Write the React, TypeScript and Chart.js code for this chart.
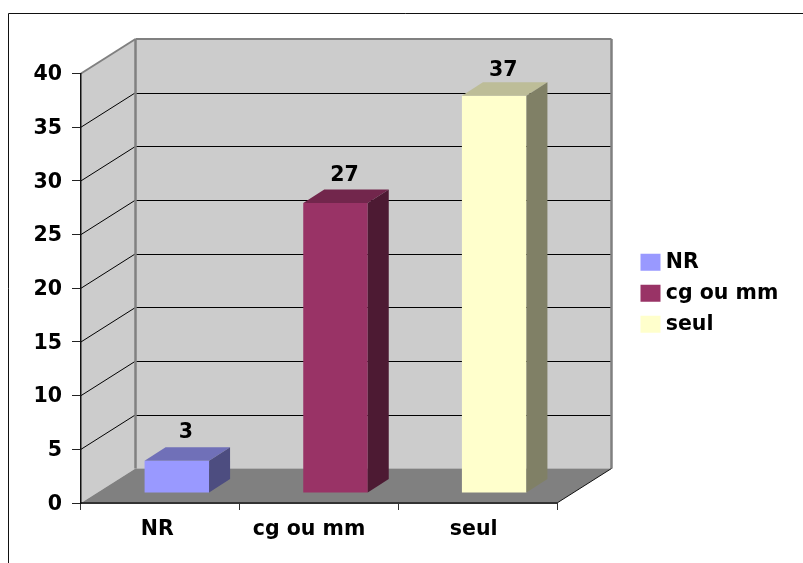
import React, { useEffect, useRef } from "react";
import { Chart, registerables } from "chart.js";

Chart.register(...registerables);

const categories = ["NR", "cg ou mm", "seul"];
const values = [3, 27, 37];
const frontColors = ["#9999FF", "#993366", "#FFFFCC"];
const topColors = ["#7070B8", "#72264C", "#BDBD98"];
const sideColors = ["#4D4D80", "#4D1A33", "#808066"];

const FONT = { family: "'DejaVu Sans', Verdana, sans-serif", size: 20.5, weight: "bold" as const };
const WALL_DX = 54.5;
const WALL_DY = -34.5;
const BAR_SHIFT_X = 16.5;
const BAR_SHIFT_Y = -10;
const BAR_DX = 21;
const BAR_DY = -13.5;
const TICK_LABEL_SHIFT = [-3, -10, -4];
const VALUE_LABEL_SHIFT = [-1, 0, 2.5];

const poly = (ctx: CanvasRenderingContext2D, pts: number[][], fill?: string) => {
  ctx.beginPath();
  pts.forEach(([x, y], i) => (i ? ctx.lineTo(x, y) : ctx.moveTo(x, y)));
  ctx.closePath();
  if (fill) {
    ctx.fillStyle = fill;
    ctx.fill();
  }
};

const line = (ctx: CanvasRenderingContext2D, x1: number, y1: number, x2: number, y2: number, color: string, lw = 1) => {
  ctx.beginPath();
  ctx.moveTo(x1, y1);
  ctx.lineTo(x2, y2);
  ctx.strokeStyle = color;
  ctx.lineWidth = lw;
  ctx.stroke();
};

const snap = (v: number) => Math.round(v) + 0.5;

const scenePlugin = {
  id: "scene3d",
  afterLayout(chart: any) {
    const legend = chart.legend;
    legend.left = 635;
    legend.top = 241.5;
    legend.right = 803;
    legend.bottom = 563;
    legend.width = 168;
    legend.height = 321.5;
  },
  beforeDraw(chart: any) {
    const { ctx, chartArea: a, scales } = chart;
    const y = scales.y;
    scales.x.getLabelItems(a).forEach((item: any, i: number) => {
      if (!item.shifted) {
        item.options.translation[0] += TICK_LABEL_SHIFT[i];
        item.shifted = true;
      }
    });
    ctx.save();
    // frame
    ctx.beginPath();
    ctx.moveTo(8.5, 563);
    ctx.lineTo(8.5, 13.5);
    ctx.lineTo(803, 13.5);
    ctx.strokeStyle = "#111111";
    ctx.lineWidth = 1;
    ctx.stroke();

    const bx = a.left + WALL_DX;
    const brx = a.right + WALL_DX;
    const by = a.bottom + WALL_DY;
    const bty = a.top + WALL_DY;
    // side and back walls
    poly(ctx, [[a.left, a.top], [bx, bty], [bx, by], [a.left, a.bottom]], "#CCCCCC");
    poly(ctx, [[bx, bty], [brx, bty], [brx, by], [bx, by]], "#CCCCCC");
    // grid lines on the walls
    (y.ticks as any[]).forEach((t) => {
      if (t.value === 0 || t.value === 40) return;
      const py = y.getPixelForValue(t.value);
      line(ctx, a.left, py, bx, py + WALL_DY, "#000000");
      line(ctx, bx, snap(py + WALL_DY), brx, snap(py + WALL_DY), "#000000");
    });
    // floor
    poly(ctx, [[a.left, a.bottom], [bx, by], [brx, by], [a.right, a.bottom]], "#808080");
    // wall edges
    line(ctx, a.left, a.top, bx, bty, "#808080", 2);
    line(ctx, bx, bty, brx, bty, "#808080", 2);
    line(ctx, brx, bty, brx, by, "#808080", 2.5);
    line(ctx, bx, bty, bx, by, "#808080", 2.5);
    line(ctx, a.right, a.bottom, brx, by, "#111111", 1);
    ctx.restore();
  },
  beforeDatasetDraw(chart: any) {
    chart.ctx.save();
    chart.ctx.translate(BAR_SHIFT_X, BAR_SHIFT_Y);
  },
  afterDatasetDraw(chart: any) {
    const { ctx } = chart;
    const meta = chart.getDatasetMeta(0);
    meta.data.forEach((bar: any, i: number) => {
      const { x, y, base, width } = bar.getProps(["x", "y", "base", "width"], true);
      const l = x - width / 2;
      const r = x + width / 2;
      poly(ctx, [[l, y], [l + BAR_DX, y + BAR_DY], [r + BAR_DX, y + BAR_DY], [r, y]], topColors[i]);
      poly(ctx, [[r, y], [r + BAR_DX, y + BAR_DY], [r + BAR_DX, base + BAR_DY], [r, base]], sideColors[i]);
      ctx.fillStyle = "#000000";
      ctx.font = `${FONT.weight} ${FONT.size}px ${FONT.family}`;
      ctx.textAlign = "center";
      ctx.textBaseline = "middle";
      ctx.fillText(String(values[i]), x + 9, y + BAR_DY - 14 + VALUE_LABEL_SHIFT[i]);
    });
    ctx.restore();
  },
};

export default function App() {
  const ref = useRef<HTMLCanvasElement>(null);

  useEffect(() => {
    document.body.style.margin = "0";
    const chart = new Chart(ref.current as HTMLCanvasElement, {
      type: "bar",
      data: {
        labels: categories,
        datasets: [
          {
            data: values,
            backgroundColor: frontColors,
            borderWidth: 0,
            barPercentage: 0.4065,
            categoryPercentage: 1,
          },
        ],
      },
      options: {
        animation: false,
        responsive: false,
        devicePixelRatio: 1,
        layout: { padding: { left: 0, top: 73.5, right: 246, bottom: 0 } },
        scales: {
          x: {
            offset: true,
            afterFit: (s: any) => {
              s.height = 60;
            },
            grid: { offset: true, drawOnChartArea: false, tickLength: 7, tickColor: "#333333" },
            border: { color: "#333333", width: 2 },
            ticks: { color: "#000000", font: FONT, padding: 7, maxRotation: 0, autoSkip: false },
          },
          y: {
            min: 0,
            max: 40,
            afterFit: (s: any) => {
              s.width = 81;
            },
            grid: { drawOnChartArea: false, tickLength: 9, tickColor: "#222222" },
            border: { color: "#111111", width: 1.5 },
            ticks: { stepSize: 5, color: "#000000", font: FONT, padding: 10, labelOffset: 1.5 },
          },
        },
        plugins: {
          title: { display: false },
          tooltip: { enabled: false },
          legend: {
            display: true,
            position: "chartArea" as any,
            align: "start",
            labels: {
              boxWidth: 10,
              boxHeight: 7,
              padding: 10.5,
              color: "#000000",
              font: FONT,
              generateLabels: () =>
                categories.map((text, i) => ({
                  text,
                  fillStyle: frontColors[i],
                  strokeStyle: frontColors[i],
                  lineWidth: 10,
                  hidden: false,
                  index: i,
                  fontColor: "#000000",
                })),
            },
          },
        },
      },
      plugins: [scenePlugin],
    } as any);
    return () => chart.destroy();
  }, []);

  return <canvas ref={ref} width={803} height={563} style={{ display: "block" }} />;
}
